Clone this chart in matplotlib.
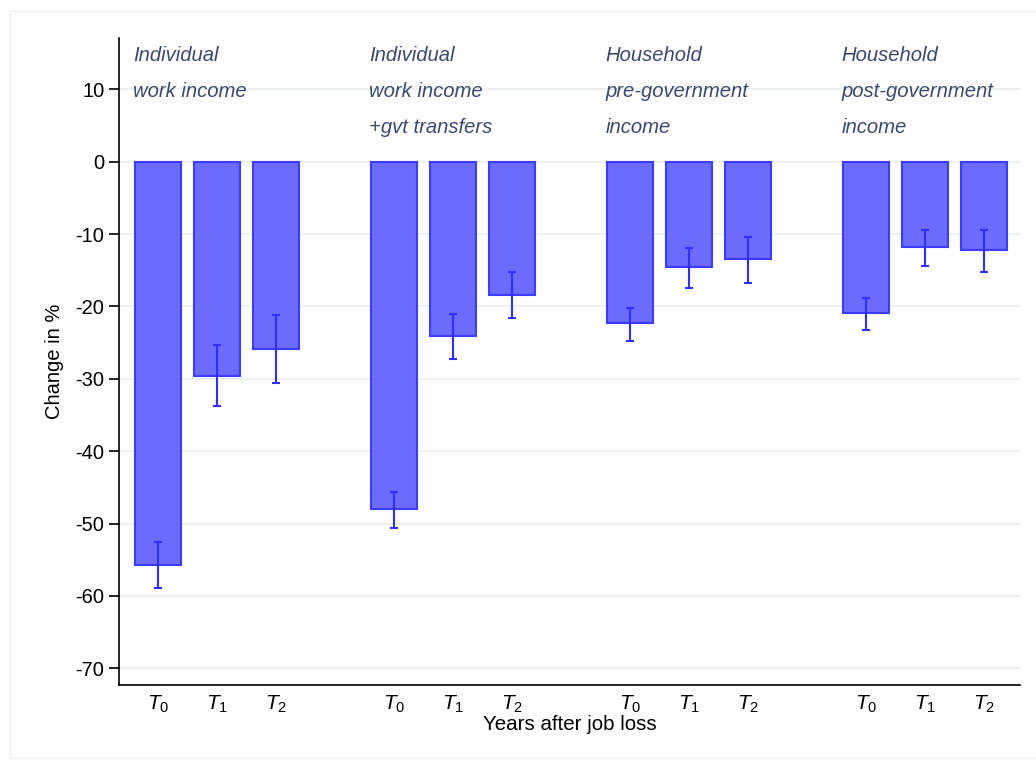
import matplotlib.pyplot as plt
from matplotlib.patches import Rectangle

# data
groups = ["Individual\nwork income",
          "Individual\nwork income\n+gvt transfers",
          "Household\npre-government\nincome",
          "Household\npost-government\nincome"]
periods = ["$T_0$", "$T_1$", "$T_2$"]
change = [[-55.7, -29.6, -25.9],
          [-48.0, -24.1, -18.4],
          [-22.3, -14.5, -13.4],
          [-20.9, -11.8, -12.2]]
ci_low = [[-58.9, -33.8, -30.6],
          [-50.6, -27.2, -21.6],
          [-24.8, -17.4, -16.7],
          [-23.2, -14.4, -15.2]]
ci_high = [[-52.5, -25.3, -21.2],
           [-45.6, -21.0, -15.2],
           [-20.2, -11.9, -10.4],
           [-18.8, -9.4, -9.4]]

plt.rcParams['font.family'] = ['Liberation Sans', 'DejaVu Sans']
plt.rcParams['axes.unicode_minus'] = False
plt.rcParams['mathtext.fontset'] = 'custom'
plt.rcParams['mathtext.it'] = 'Liberation Sans:italic'
plt.rcParams['mathtext.rm'] = 'Liberation Sans'

fig = plt.figure(figsize=(10.36, 7.6), dpi=100)
fig.patches.append(Rectangle((10 / 1036, 0.003), 1.1, 1 - 11 / 760 - 0.003,
                             transform=fig.transFigure, fill=False,
                             edgecolor='#eceff1', linewidth=1))
ax = fig.add_axes([119 / 1036, 1 - 685 / 760, 901 / 1036, 647 / 760])

bar_fill = '#6b6bfe'
bar_edge = '#3c3cff'

xs, labels = [], []
for g, name in enumerate(groups):
    pos = [g * 4 + i for i in range(3)]
    lo = [change[g][i] - ci_low[g][i] for i in range(3)]
    hi = [ci_high[g][i] - change[g][i] for i in range(3)]
    ax.bar(pos, change[g], width=0.78, color=bar_fill, edgecolor=bar_edge,
           linewidth=1.5, zorder=2)
    ax.errorbar(pos, change[g], yerr=[lo, hi], fmt='none', ecolor='#2f2fff',
                elinewidth=1.5, capsize=3, capthick=1.5, zorder=3)
    for k, line in enumerate(name.split("\n")):
        ax.text(g * 4 - 0.42, 14.7 - 5 * k, line, style='italic', fontsize=14.6,
                color='#3b4a6b', ha='left', va='center')
    xs += pos
    labels += periods

ax.set_xlim(-0.66, 14.61)
ax.set_ylim(-72.3, 17.1)
ax.set_yticks(range(10, -80, -10))
ax.set_xticks(xs)
ax.set_xticklabels(labels, fontsize=15)
ax.tick_params(axis='x', length=0, pad=6)
ax.tick_params(axis='y', labelsize=14.5, length=7, width=1.2)
ax.yaxis.grid(True, color='#e8eff1', linewidth=1.2, zorder=0)
ax.set_axisbelow(True)
for side in ['top', 'right']:
    ax.spines[side].set_visible(False)
for side in ['left', 'bottom']:
    ax.spines[side].set_linewidth(1.2)
ax.set_ylabel("Change in %", fontsize=14.5, labelpad=8)
ax.set_xlabel("Years after job loss", fontsize=14.8, labelpad=0)

fig.savefig("out.png", dpi=100)
